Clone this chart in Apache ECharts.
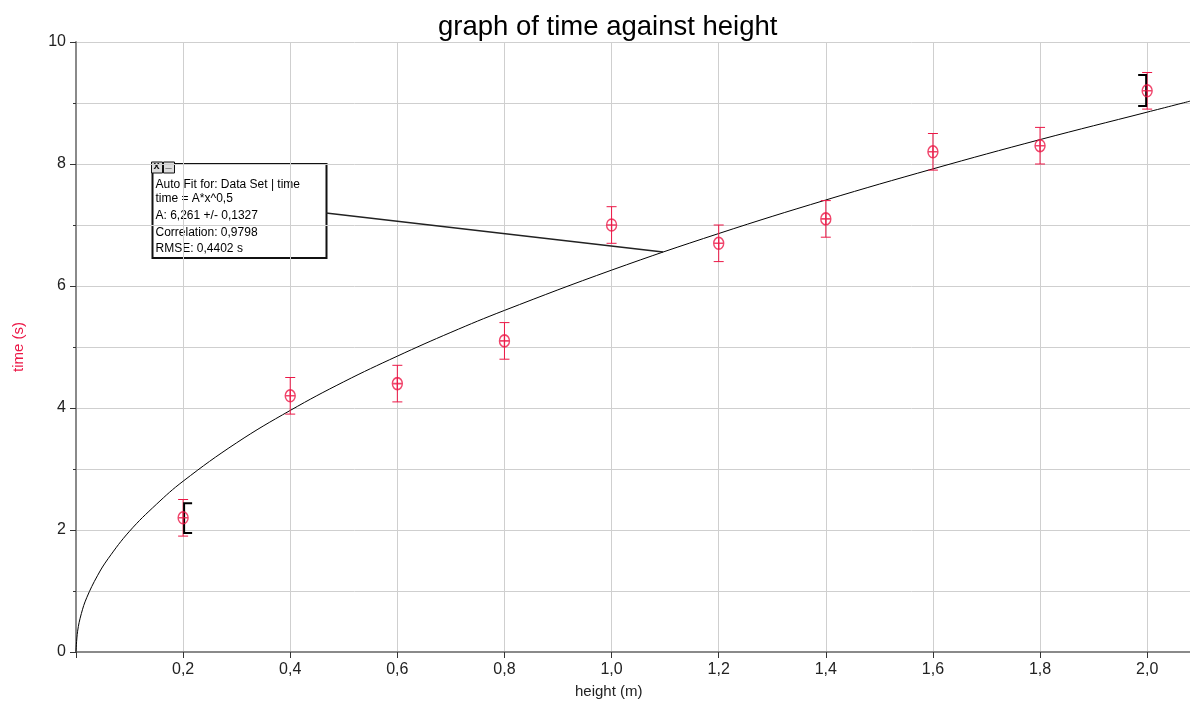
<!DOCTYPE html>
<html>
<head>
<meta charset="utf-8">
<script src="https://cdn.jsdelivr.net/npm/echarts@6/dist/echarts.min.js"></script>
<style>
  html, body { margin: 0; padding: 0; background: #fff; }
  #chart { width: 1190px; height: 704px; }
</style>
</head>
<body>
<div id="chart"></div>
<script>
// measured points (height in m, time in s)
var heights = [0.2, 0.4, 0.6, 0.8, 1.0, 1.2, 1.4, 1.6, 1.8, 2.0];
var times = [2.2, 4.2, 4.4, 5.1, 7.0, 6.7, 7.1, 8.2, 8.3, 9.2];
var timeErr = [0.3, 0.3, 0.3, 0.3, 0.3, 0.3, 0.3, 0.3, 0.3, 0.3];

// black range brackets: [height, low, high, side]
var brackets = [
  [0.2, 1.95, 2.44, 1],
  [2.0, 8.95, 9.46, -1]
];

// auto fit curve
var fitH = [0, 0.003, 0.01, 0.02, 0.04, 0.06, 0.1, 0.15, 0.2, 0.3, 0.4, 0.5, 0.6, 0.7, 0.8, 1.0, 1.2, 1.4, 1.6, 1.8, 2.0, 2.08];
var fitT = [0, 0.34, 0.63, 0.89, 1.25, 1.53, 1.98, 2.42, 2.80, 3.43, 3.96, 4.43, 4.85, 5.24, 5.60, 6.26, 6.86, 7.41, 7.92, 8.40, 8.85, 9.03];

var fitBoxLines = [
  "Auto Fit for: Data Set | time",
  "time = A*x^0,5",
  "A: 6,261 +/- 0,1327",
  "Correlation: 0,9798",
  "RMSE: 0,4402 s"
];

var chart = echarts.init(document.getElementById("chart"));

var red = "#ec1746";
var font = "Arial, 'Liberation Sans', sans-serif";

var pointData = heights.map(function(h, i) { return [h, times[i]]; });
var errData = heights.map(function(h, i) {
  return [h, times[i] - timeErr[i], times[i] + timeErr[i]];
});
var fitData = fitH.map(function(h, i) { return [h, fitT[i]]; });

var marker = "path://M0,-6A5,6 0 1,1 0,6A5,6 0 1,1 0,-6ZM-5,0L5,0M0,-6L0,6";

var option = {
  animation: false,
  title: {
    text: "graph of time against height",
    left: 433,
    top: 8,
    textStyle: { fontFamily: font, fontSize: 27.5, fontWeight: "normal", color: "#000" }
  },
  grid: { left: 76, right: 0, top: 42, bottom: 52 },
  xAxis: {
    type: "value",
    min: 0,
    max: 2.08,
    interval: 0.2,
    axisLine: { lineStyle: { color: "#8a8a8a", width: 2 } },
    axisTick: { length: 6, lineStyle: { color: "#333" } },
    axisLabel: {
      margin: 10,
      fontFamily: font,
      fontSize: 16,
      color: "#222",
      showMaxLabel: false,
      formatter: function(v) { return v === 0 ? "" : v.toFixed(1).replace(".", ","); }
    },
    splitLine: { lineStyle: { color: "#cfcfcf" } }
  },
  yAxis: {
    type: "value",
    min: 0,
    max: 10,
    interval: 2,
    name: "time (s)",
    nameLocation: "middle",
    nameGap: 50,
    nameTextStyle: { color: red, fontFamily: font, fontSize: 15 },
    axisLine: { show: true, lineStyle: { color: "#8a8a8a", width: 2 } },
    axisTick: { show: true, length: 6, lineStyle: { color: "#333" } },
    minorTick: { show: true, splitNumber: 2, length: 3, lineStyle: { color: "#333" } },
    minorSplitLine: { show: true, lineStyle: { color: "#cfcfcf" } },
    axisLabel: { margin: 10, fontFamily: font, fontSize: 16, color: "#222" },
    splitLine: { lineStyle: { color: "#cfcfcf" } }
  },
  graphic: [
    {
      type: "text",
      left: 575,
      top: 684,
      style: { text: "height (m)", font: "15px " + font, fill: "#222" }
    },
    {
      type: "line",
      z: 50,
      shape: { x1: 326, y1: 213, x2: 663, y2: 252 },
      style: { stroke: "#222", lineWidth: 1.3 }
    },
    {
      type: "group",
      left: 151,
      top: 158,
      z: 60,
      children: [
        {
          type: "rect",
          shape: { x: 2, y: 2, width: 174, height: 94 },
          style: { fill: "#fff", stroke: "#111", lineWidth: 2 }
        },
        {
          type: "rect",
          shape: { x: 1, y: 0, width: 11, height: 11 },
          style: { fill: "#ddd", stroke: "#111", lineWidth: 1 }
        },
        {
          type: "text",
          x: 3, y: -2,
          style: { text: "x", font: "bold 11px " + font, fill: "#111" }
        },
        {
          type: "rect",
          shape: { x: 13, y: 0, width: 11, height: 11 },
          style: { fill: "#ddd", stroke: "#111", lineWidth: 1 }
        },
        {
          type: "text",
          x: 15, y: -4,
          style: { text: "_", font: "bold 11px " + font, fill: "#111" }
        }
      ].concat(fitBoxLines.map(function(t, i) {
        var ys = [17, 31, 48, 65, 81];
        return {
          type: "text",
          x: 5,
          y: ys[i],
          style: { text: t, font: "12px " + font, fill: "#000" }
        };
      }))
    }
  ],
  series: [
    {
      name: "fit",
      type: "line",
      data: fitData,
      smooth: 0.4,
      showSymbol: false,
      silent: true,
      lineStyle: { color: "#000", width: 1 },
      z: 3
    },
    {
      name: "error",
      type: "custom",
      data: errData,
      z: 4,
      renderItem: function(params, api) {
        var x = api.value(0);
        var top = api.coord([x, api.value(2)]);
        var bot = api.coord([x, api.value(1)]);
        var w = 5;
        return {
          type: "group",
          children: [
            { type: "line", shape: { x1: top[0], y1: top[1], x2: bot[0], y2: bot[1] }, style: { stroke: red, lineWidth: 1 } },
            { type: "line", shape: { x1: top[0] - w, y1: top[1], x2: top[0] + w, y2: top[1] }, style: { stroke: red, lineWidth: 1 } },
            { type: "line", shape: { x1: bot[0] - w, y1: bot[1], x2: bot[0] + w, y2: bot[1] }, style: { stroke: red, lineWidth: 1 } }
          ]
        };
      }
    },
    {
      name: "range",
      type: "custom",
      data: brackets,
      z: 5,
      renderItem: function(params, api) {
        var x = api.value(0);
        var side = api.value(3);
        var top = api.coord([x, api.value(2)]);
        var bot = api.coord([x, api.value(1)]);
        var vx = top[0] + side * 1;
        var w = 8 * side;
        return {
          type: "polyline",
          shape: { points: [[vx + w, top[1]], [vx, top[1]], [vx, bot[1]], [vx + w, bot[1]]] },
          style: { stroke: "#000", lineWidth: 2, fill: null }
        };
      }
    },
    {
      name: "time",
      type: "scatter",
      data: pointData,
      symbol: marker,
      symbolSize: [10, 12],
      itemStyle: { color: "rgba(0,0,0,0)", borderColor: red, borderWidth: 1.5 },
      z: 6
    }
  ]
};

chart.setOption(option);
window.addEventListener("resize", function() { chart.resize(); });
</script>
</body>
</html>
